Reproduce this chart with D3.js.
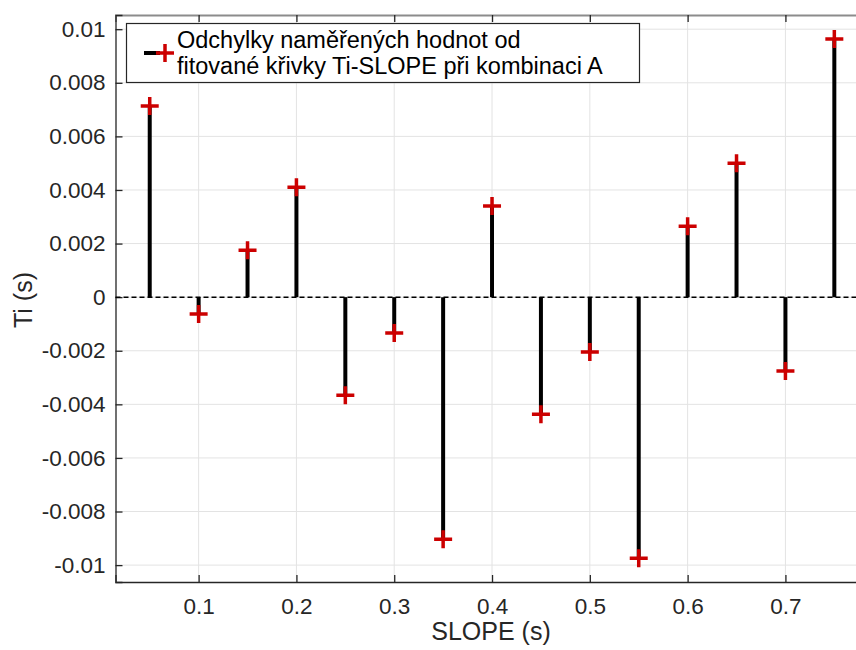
<!DOCTYPE html>
<html lang="en">
<head>
<meta charset="UTF-8"/>
<title>Stem plot Ti-SLOPE</title>
<script src="https://d3js.org/d3.v7.min.js"></script>
<style>
  body { margin: 0; background: #fff; }
  text { font-family: "Liberation Sans", Arial, Helvetica, sans-serif; }
</style>
</head>
<body>
<script>
    // data
    var slopes = [0.05, 0.10, 0.15, 0.20, 0.25, 0.30, 0.35, 0.40, 0.45, 0.50, 0.55, 0.60, 0.65, 0.70, 0.75];
    var deviations = [0.00713, -0.00063, 0.00175, 0.00410, -0.00366, -0.00134, -0.00903, 0.00340,
                      -0.00437, -0.00205, -0.00974, 0.00265, 0.00500, -0.00276, 0.00963];
    var xTicks = [0.1, 0.2, 0.3, 0.4, 0.5, 0.6, 0.7];
    var yTicks = [0.01, 0.008, 0.006, 0.004, 0.002, 0, -0.002, -0.004, -0.006, -0.008, -0.01];
    var legendLines = ["Odchylky naměřených hodnot od", "fitované křivky Ti-SLOPE při kombinaci A"];

    var w = 856;
    var h = 650;
    var pLeft = 115.5, pTop = 15, pBottom = 582;
    var pRight = pLeft + (0.785 - 0.015) * 978;

    var xScale = d3.scaleLinear().domain([0.015, 0.785]).range([pLeft, pRight]);
    var yScale = d3.scaleLinear().domain([-0.01063, 0.01053]).range([pBottom, pTop]);

    var svg = d3.select("body").append("svg")
        .attr("width", w)
        .attr("height", h);

    //grid
    svg.selectAll("line.gx").data(xTicks).enter().append("line")
        .attr("x1", function (d) { return xScale(d); })
        .attr("x2", function (d) { return xScale(d); })
        .attr("y1", pTop).attr("y2", pBottom)
        .attr("stroke", "#e3e3e3").attr("stroke-width", 1);
    svg.selectAll("line.gy").data(yTicks).enter().append("line")
        .attr("x1", pLeft).attr("x2", pRight)
        .attr("y1", function (d) { return yScale(d); })
        .attr("y2", function (d) { return yScale(d); })
        .attr("stroke", "#e3e3e3").attr("stroke-width", 1);

    //axes, ticks inward like matlab
    var xAxis = d3.axisBottom(xScale).tickValues(xTicks).tickSize(-7).tickPadding(16)
        .tickFormat(function (d) { return String(+d.toFixed(3)); });
    var gx = svg.append("g").attr("transform", "translate(0," + pBottom + ")").call(xAxis);
    var xTop = d3.axisTop(xScale).tickValues(xTicks).tickSize(-7).tickFormat("");
    var gxt = svg.append("g").attr("transform", "translate(0," + pTop + ")").call(xTop);

    var yAxis = d3.axisLeft(yScale).tickValues(yTicks).tickSize(-7).tickPadding(10)
        .tickFormat(function (d) { return String(+d.toFixed(4)); });
    var gy = svg.append("g").attr("transform", "translate(" + pLeft + ",0)").call(yAxis);

    [gx, gy].forEach(function (g) {
        g.attr("font-family", null).attr("font-size", null);
        g.select(".domain").attr("stroke", "#262626").attr("stroke-width", 1.3);
        g.selectAll(".tick line").attr("stroke", "#262626").attr("stroke-width", 1.3);
        g.selectAll(".tick text").attr("fill", "#262626").attr("font-size", "22.5px");
    });
    gxt.select(".domain").attr("stroke", "#8c8c8c").attr("stroke-width", 2);
    gxt.selectAll(".tick line").attr("stroke", "#262626").attr("stroke-width", 1.3);

    //zero line, dashed
    svg.append("line")
        .attr("x1", pLeft).attr("x2", pRight)
        .attr("y1", yScale(0)).attr("y2", yScale(0))
        .attr("stroke", "#000").attr("stroke-width", 1.5)
        .attr("stroke-dasharray", "5,3");

    //stems
    var pts = slopes.map(function (s, i) { return [s, deviations[i]]; });
    svg.selectAll("line.stem").data(pts).enter().append("line")
        .attr("x1", function (d) { return xScale(d[0]); })
        .attr("x2", function (d) { return xScale(d[0]); })
        .attr("y1", yScale(0))
        .attr("y2", function (d) { return yScale(d[1]); })
        .attr("stroke", "#000").attr("stroke-width", 4);

    //plus markers
    var ms = 9;
    svg.selectAll("path.mark").data(pts).enter().append("path")
        .attr("d", function (d) {
            var cx = xScale(d[0]), cy = yScale(d[1]);
            return "M" + (cx - ms) + "," + cy + "H" + (cx + ms) + "M" + cx + "," + (cy - ms) + "V" + (cy + ms);
        })
        .attr("stroke", "#cc0000").attr("stroke-width", 3.5).attr("fill", "none");

    //legend
    var lg = svg.append("g");
    lg.append("rect")
        .attr("x", 126.5).attr("y", 23.5).attr("width", 513).attr("height", 59)
        .attr("fill", "#fff").attr("stroke", "#262626").attr("stroke-width", 1.2);
    lg.append("line")
        .attr("x1", 144).attr("x2", 160).attr("y1", 53).attr("y2", 53)
        .attr("stroke", "#000").attr("stroke-width", 4);
    lg.append("path")
        .attr("d", "M" + (165 - ms) + ",53H" + (165 + ms) + "M165," + (53 - ms) + "V" + (53 + ms))
        .attr("stroke", "#cc0000").attr("stroke-width", 3.5).attr("fill", "none");
    lg.selectAll("text").data(legendLines).enter().append("text")
        .attr("x", 177)
        .attr("y", function (d, i) { return 48 + i * 25.5; })
        .attr("font-size", "23.5px").attr("fill", "#000")
        .text(function (d) { return d; });

    //axis labels
    svg.append("text")
        .attr("text-anchor", "middle")
        .attr("x", 491).attr("y", 640)
        .attr("font-size", "25px").attr("fill", "#262626")
        .text("SLOPE (s)");
    svg.append("text")
        .attr("text-anchor", "middle")
        .attr("transform", "translate(32,300) rotate(-90)")
        .attr("font-size", "25px").attr("fill", "#262626")
        .text("Ti (s)");
</script>
</body>
</html>
